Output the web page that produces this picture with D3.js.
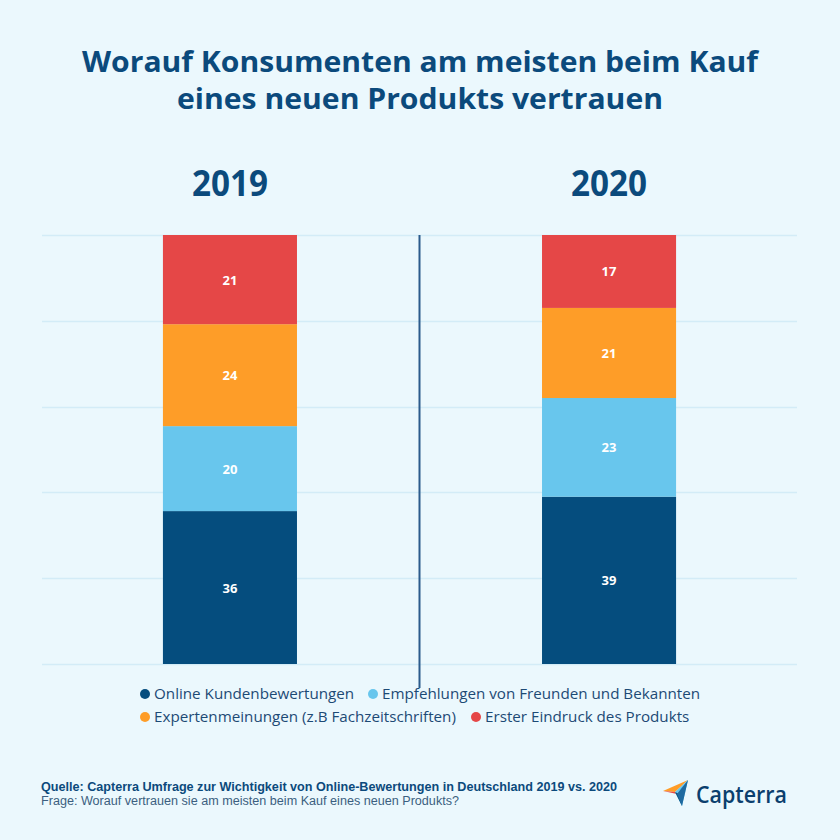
<!DOCTYPE html>
<html>
<head>
<meta charset="utf-8">
<script src="https://cdn.jsdelivr.net/npm/d3@7"></script>
<style>
html,body{margin:0;padding:0;background:#ebf8fd;}
svg{display:block;}
</style>
</head>
<body>
<svg id="chart" width="840" height="840"></svg>
<script>
const years = ["2019", "2020"];
const seriesNames = ["Online Kundenbewertungen", "Empfehlungen von Freunden und Bekannten", "Expertenmeinungen (z.B Fachzeitschriften)", "Erster Eindruck des Produkts"];
const seriesKeys = ["online", "empfehlung", "experten", "eindruck"];
const online = [36, 39];
const empfehlung = [20, 23];
const experten = [24, 21];
const eindruck = [21, 17];
const colors = ["#054d7e", "#68c6ed", "#fe9d28", "#e54747"];
const gridTicks = [0, 0.2, 0.4, 0.6, 0.8, 1];

const titleLines = ["Worauf Konsumenten am meisten beim Kauf", "eines neuen Produkts vertrauen"];
const sourceLine = "Quelle: Capterra Umfrage zur Wichtigkeit von Online-Bewertungen in Deutschland 2019 vs. 2020";
const questionLine = "Frage: Worauf vertrauen sie am meisten beim Kauf eines neuen Produkts?";

const svg = d3.select("#chart");
svg.append("rect").attr("width", 840).attr("height", 840).attr("fill", "#ebf8fd");

const table = years.map((y, i) => ({year: y, online: online[i], empfehlung: empfehlung[i], experten: experten[i], eindruck: eindruck[i]}));
const stacked = d3.stack().keys(seriesKeys).offset(d3.stackOffsetExpand)(table);

const x = d3.scaleBand().domain(years).range([42, 797]).paddingInner(0.6464).paddingOuter(0.319);
const y = d3.scaleLinear().domain([0, 1]).range([664, 235]);
const color = d3.scaleOrdinal().domain(seriesKeys).range(colors);

// title
const title = svg.append("g");
titleLines.forEach((t, i) => {
  title.append("text")
    .attr("x", 420).attr("y", 72 + i * 37)
    .attr("text-anchor", "middle")
    .attr("font-family", "'Open Sans', sans-serif")
    .attr("font-weight", 700)
    .attr("font-size", 29)
    .attr("fill", "#0b4a7c")
    .attr("textLength", i === 0 ? 676 : 486)
    .attr("lengthAdjust", "spacingAndGlyphs")
    .text(t);
});

// year headers
svg.selectAll("text.year").data(years).join("text")
  .attr("class", "year")
  .attr("x", d => x(d) + x.bandwidth() / 2)
  .attr("y", 196)
  .attr("text-anchor", "middle")
  .attr("font-family", "'Open Sans', sans-serif")
  .attr("font-weight", 700)
  .attr("font-size", 35)
  .attr("fill", "#0b4a7c")
  .attr("textLength", 76)
  .attr("lengthAdjust", "spacingAndGlyphs")
  .text(d => d);

// gridlines
svg.append("g").selectAll("line").data(gridTicks).join("line")
  .attr("x1", 42).attr("x2", 797)
  .attr("y1", d => Math.round(y(d)) + 0.5).attr("y2", d => Math.round(y(d)) + 0.5)
  .attr("stroke", "#d3ecf7").attr("stroke-width", 1.5);

// divider
const midX = (x(years[0]) + x.bandwidth() + x(years[1])) / 2;
svg.append("line")
  .attr("x1", midX).attr("x2", midX)
  .attr("y1", y(1)).attr("y2", 688)
  .attr("stroke", "#2b5b8c").attr("stroke-width", 2);

// bars
const layers = svg.append("g").selectAll("g").data(stacked).join("g")
  .attr("fill", d => color(d.key));
layers.selectAll("rect").data(d => d).join("rect")
  .attr("x", d => x(d.data.year))
  .attr("width", x.bandwidth())
  .attr("y", d => y(d[1]))
  .attr("height", d => y(d[0]) - y(d[1]));

// labels
const labels = svg.append("g");
stacked.forEach(layer => {
  layer.forEach(d => {
    labels.append("text")
      .attr("x", x(d.data.year) + x.bandwidth() / 2)
      .attr("y", (y(d[0]) + y(d[1])) / 2 + 5)
      .attr("text-anchor", "middle")
      .attr("font-family", "'Open Sans', sans-serif")
      .attr("font-weight", 700)
      .attr("font-size", 13)
      .attr("fill", "#ffffff")
      .text(d.data[layer.key]);
  });
});

// legend
const legendPos = [
  {x: 145, y: 694}, {x: 373, y: 694},
  {x: 145, y: 717}, {x: 476, y: 717}
];
const legend = svg.append("g");
seriesKeys.forEach((k, i) => {
  const p = legendPos[i];
  legend.append("circle").attr("cx", p.x).attr("cy", p.y).attr("r", 5).attr("fill", colors[i]);
  legend.append("text")
    .attr("x", p.x + 9).attr("y", p.y + 5)
    .attr("font-family", "'Open Sans', sans-serif")
    .attr("font-size", 15.2)
    .attr("fill", "#1d4a75")
    .text(seriesNames[i]);
});

// footer
svg.append("text")
  .attr("x", 41).attr("y", 791)
  .attr("font-family", "'Liberation Sans', Arial, sans-serif")
  .attr("font-weight", 700)
  .attr("font-size", 12.5)
  .attr("fill", "#0b4a7c")
  .attr("textLength", 576)
  .attr("lengthAdjust", "spacingAndGlyphs")
  .text(sourceLine);
svg.append("text")
  .attr("x", 41).attr("y", 805)
  .attr("font-family", "'Liberation Sans', Arial, sans-serif")
  .attr("font-size", 12.5)
  .attr("fill", "#3b5f80")
  .attr("textLength", 418)
  .attr("lengthAdjust", "spacingAndGlyphs")
  .text(questionLine);

// Capterra logo
const logo = svg.append("g").attr("transform", "translate(663,780)");
logo.append("path").attr("d", "M0,11 L25,0 L12,12 Z").attr("fill", "#ff9d28");
logo.append("path").attr("d", "M0,11 L12,12 L14,14 Z").attr("fill", "#e54747");
logo.append("path").attr("d", "M12,12 L25,0 L19,26 Z").attr("fill", "#68c6ed");
logo.append("path").attr("d", "M12,12 L16,14 L19,26 Z").attr("fill", "#054d7e");
logo.append("path").attr("d", "M14,14 L25,0 L19,26 Z").attr("fill", "#1f6aa0");
svg.append("text")
  .attr("x", 696).attr("y", 803)
  .attr("font-family", "'Open Sans', sans-serif")
  .attr("font-weight", 600)
  .attr("font-size", 24)
  .attr("fill", "#0b3f6e")
  .attr("textLength", 91)
  .attr("lengthAdjust", "spacingAndGlyphs")
  .text("Capterra");
</script>
</body>
</html>
